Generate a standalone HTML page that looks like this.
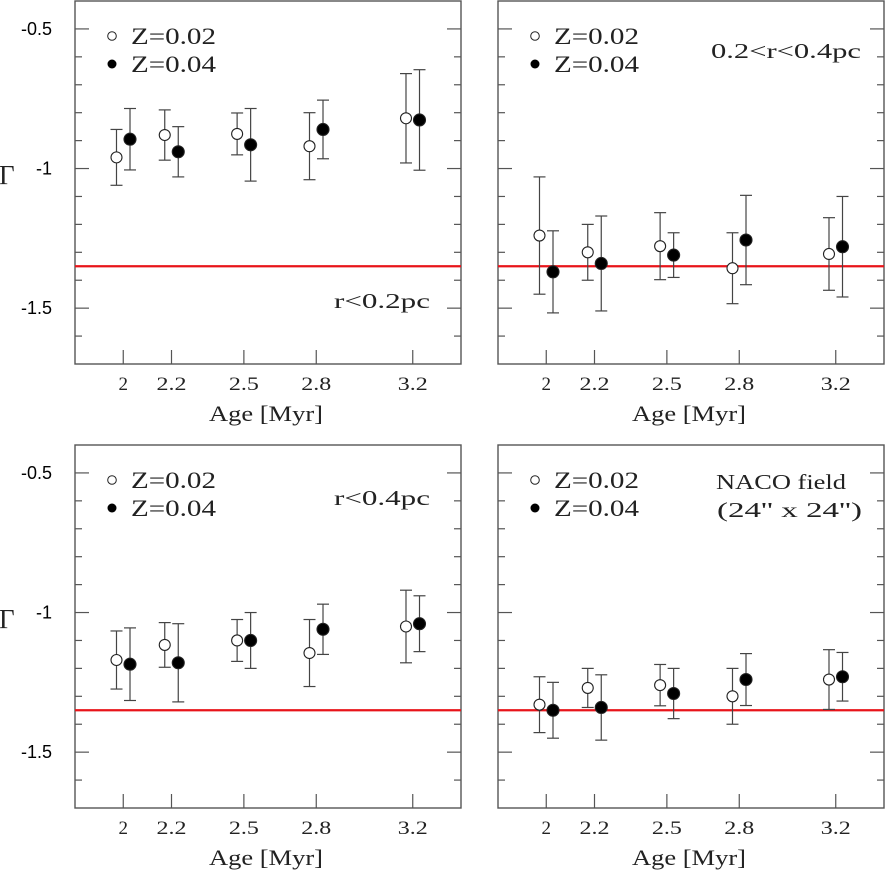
<!DOCTYPE html>
<html><head><meta charset="utf-8"><style>
html,body{margin:0;padding:0;background:#fff;}
svg{display:block;}
text{font-family:"Liberation Serif",serif;fill:#222;}
.yl{font-family:"Liberation Sans",sans-serif;font-size:18px;fill:#000;}
</style></head><body>
<svg id="chart" width="885" height="871" viewBox="0 0 885 871"></svg>
<script>
const ages = [2, 2.2, 2.5, 2.8, 3.2];
const xTickLabels = ["2","2.2","2.5","2.8","3.2"];
const yTickLabels = ["-0.5","-1","-1.5"];
const yTickValues = [-0.5,-1,-1.5];
const refSlope = -1.35;
// panel 1: r<0.2pc
const p1Open = [-0.96,-0.88,-0.876,-0.92,-0.82];
const p1OpenErr = [0.10,0.09,0.075,0.12,0.16];
const p1Fill = [-0.895,-0.94,-0.915,-0.86,-0.826];
const p1FillErr = [0.11,0.09,0.13,0.105,0.18];
// panel 2: 0.2<r<0.4pc
const p2Open = [-1.24,-1.30,-1.278,-1.357,-1.306];
const p2OpenErr = [0.21,0.10,0.12,0.127,0.13];
const p2Fill = [-1.37,-1.34,-1.31,-1.256,-1.28];
const p2FillErr = [0.147,0.17,0.08,0.16,0.18];
// panel 3: r<0.4pc
const p3Open = [-1.17,-1.116,-1.10,-1.145,-1.05];
const p3OpenErr = [0.104,0.08,0.075,0.12,0.13];
const p3Fill = [-1.185,-1.18,-1.10,-1.06,-1.04];
const p3FillErr = [0.13,0.14,0.10,0.09,0.10];
// panel 4: NACO field
const p4Open = [-1.33,-1.27,-1.26,-1.30,-1.24];
const p4OpenErr = [0.10,0.07,0.074,0.10,0.107];
const p4Fill = [-1.35,-1.34,-1.29,-1.24,-1.23];
const p4FillErr = [0.10,0.117,0.09,0.093,0.087];

const NS="http://www.w3.org/2000/svg";
const svg=document.getElementById('chart');
function mk(tag,attrs,parent){const e=document.createElementNS(NS,tag);for(const k in attrs)e.setAttribute(k,attrs[k]);(parent||svg).appendChild(e);return e;}
function fit(t,len){t.setAttribute('textLength',len);t.setAttribute('lengthAdjust','spacingAndGlyphs');}

const panels=[
 {x0:75,y0:1,open:p1Open,oe:p1OpenErr,fill:p1Fill,fe:p1FillErr,yl:true,label:["r<0.2pc"],lens:[96],lx:430,ly:[308],name:"panel-r-lt-0.2pc"},
 {x0:498,y0:1,open:p2Open,oe:p2OpenErr,fill:p2Fill,fe:p2FillErr,yl:false,label:["0.2<r<0.4pc"],lens:[150],lx:861,ly:[58],name:"panel-0.2-r-0.4pc"},
 {x0:75,y0:445,open:p3Open,oe:p3OpenErr,fill:p3Fill,fe:p3FillErr,yl:true,label:["r<0.4pc"],lens:[96],lx:430,ly:[505],name:"panel-r-lt-0.4pc"},
 {x0:498,y0:445,open:p4Open,oe:p4OpenErr,fill:p4Fill,fe:p4FillErr,yl:false,label:["NACO field","(24'' x 24'')"],lens:[130,145],lx:862,ly:[489,517],lxs:[846,862],name:"panel-naco-field"}
];
const W=386,H=363,xmin=1.8,xmax=3.4,ymax=-0.4,ymin=-1.7;

panels.forEach(p=>{
 const g=mk('g',{});
 
 
 const X=v=>p.x0+(v-xmin)/(xmax-xmin)*W;
 const Y=v=>p.y0+(ymax-v)/(ymax-ymin)*H;
 const fr=mk('rect',{x:p.x0,y:p.y0,width:W,height:H,fill:'none',stroke:'#555','stroke-width':1.4},g);
 
 
 for(let i=-17;i<=-4;i++){const v=i/10;const yy=Y(v);if(yy<=p.y0+1||yy>=p.y0+H-1)continue;
  const major=(i%5===0);const L=major?14:7;
  mk('line',{x1:p.x0,x2:p.x0+L,y1:yy,y2:yy,stroke:'#555','stroke-width':1.2},g);
  mk('line',{x1:p.x0+W-L,x2:p.x0+W,y1:yy,y2:yy,stroke:'#555','stroke-width':1.2},g);}
 if(p.yl){yTickValues.forEach((v,i)=>{const t=mk('text',{x:52,y:Y(v)+6,'text-anchor':'end',class:'yl'},g);t.textContent=yTickLabels[i];
   });
  const gt=mk('text',{x:-1,y:p.y0+183,'font-size':'27px'},g);gt.textContent='Γ';
  }
 ages.forEach((a,i)=>{const xx=X(a);
  mk('line',{x1:xx,x2:xx,y1:p.y0+H-14,y2:p.y0+H,stroke:'#555','stroke-width':1.2},g);
  const t=mk('text',{x:xx,y:p.y0+H+26,'text-anchor':'middle','font-size':'19px'},g);t.textContent=xTickLabels[i];
  if(xTickLabels[i].length>1)fit(t,30);
  });
 const xt=mk('text',{x:p.x0+W/2-2,y:p.y0+H+57,'text-anchor':'middle','font-size':'22px'},g);xt.textContent='Age [Myr]';
 fit(xt,114);
 
 const rl=mk('line',{x1:p.x0,x2:p.x0+W,y1:Y(refSlope),y2:Y(refSlope),stroke:'#e8141a','stroke-width':2.2},g);
 
 function series(vals,errs,dx,filled,nm){vals.forEach((v,i)=>{const xx=X(ages[i]+dx);
  const e=mk('g',{},g);
  const y1=Y(v+errs[i]),y2=Y(v-errs[i]);
  mk('line',{x1:xx,x2:xx,y1:y1,y2:y2,stroke:'#444','stroke-width':1.2},e);
  mk('line',{x1:xx-6,x2:xx+6,y1:y1,y2:y1,stroke:'#444','stroke-width':1.2},e);
  mk('line',{x1:xx-6,x2:xx+6,y1:y2,y2:y2,stroke:'#444','stroke-width':1.2},e);
  mk('circle',{cx:xx,cy:Y(v),r:filled?6:5.5,fill:filled?'#000':'#fff',stroke:'#222','stroke-width':1.1},e);});}
 series(p.open,p.oe,-0.028,false,'point-z0.02');
 series(p.fill,p.fe,0.028,true,'point-z0.04');
 const lg=mk('g',{},g);
 mk('circle',{cx:p.x0+37,cy:p.y0+35,r:4.3,fill:'#fff',stroke:'#222','stroke-width':1},lg);
 mk('circle',{cx:p.x0+37,cy:p.y0+63,r:4.5,fill:'#000'},lg);
 const t1=mk('text',{x:p.x0+56,y:p.y0+43,'font-size':'23px'},lg);t1.textContent='Z=0.02';fit(t1,85);
 const t2=mk('text',{x:p.x0+56,y:p.y0+71,'font-size':'23px'},lg);t2.textContent='Z=0.04';fit(t2,85);
 p.label.forEach((s,i)=>{const lx=p.lxs?p.lxs[i]:p.lx;const t=mk('text',{x:lx,y:p.ly[i],'text-anchor':'end','font-size':'21px'},g);t.textContent=s;
  fit(t,p.lens[i]);
  });
});
</script>
</body></html>
